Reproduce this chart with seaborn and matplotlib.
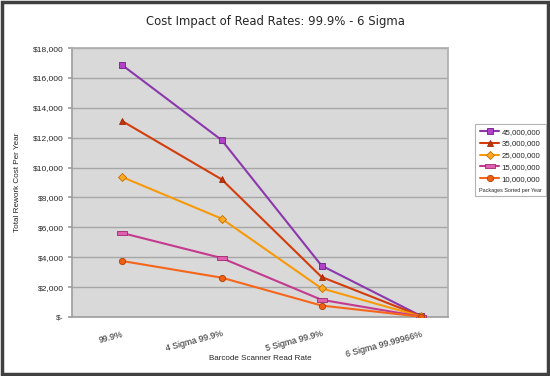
import numpy as np
import pandas as pd
import matplotlib.pyplot as plt
import matplotlib.markers as mmarkers
from matplotlib.path import Path
from matplotlib.patches import Rectangle
import seaborn as sns

# categories on the x axis
read_rates = ['99.9%', '4 Sigma 99.9%', '5 Sigma 99.9%', '6 Sigma 99.99966%']

# rework cost per year, one list per package volume
cost_45m = [16875, 11840, 3440, 57]
cost_35m = [13125, 9210, 2680, 45]
cost_25m = [9375, 6580, 1915, 32]
cost_15m = [5625, 3945, 1150, 19]
cost_10m = [3750, 2630, 765, 13]

series_names = ['45,000,000', '35,000,000', '25,000,000', '15,000,000', '10,000,000']
series_vals = [cost_45m, cost_35m, cost_25m, cost_15m, cost_10m]

rows = []
for name, vals in zip(series_names, series_vals):
    for i, v in enumerate(vals):
        rows.append({'pos': i, 'cost': v, 'volume': name})
df = pd.DataFrame(rows)

line_colors = ['#8B38AC', '#D33D0C', '#F8990A', '#C33A8E', '#F5661A']
face_colors = ['#B340C8', '#C83208', '#FFA820', '#E060B0', '#F06010']
edge_colors = ['#6A2085', '#9A2A05', '#C07000', '#A02870', '#B04000']

bar = mmarkers.MarkerStyle(Path([(-1, -0.4), (1, -0.4), (1, 0.4), (-1, 0.4), (-1, -0.4)],
                                [1, 2, 2, 2, 79]))
markers = {'45,000,000': 's', '35,000,000': '^', '25,000,000': 'D',
           '15,000,000': bar, '10,000,000': 'o'}

sns.set_theme(style='white')
plt.rcParams['font.family'] = ['DejaVu Sans']
small = ['Liberation Sans', 'DejaVu Sans']

fig = plt.figure(figsize=(5.5, 3.76), dpi=100)
ax = fig.add_axes([0.131, 0.157, 0.684, 0.715])
ax.set_facecolor('#D9D9D9')

sns.lineplot(data=df, x='pos', y='cost', hue='volume', style='volume',
             hue_order=series_names, style_order=series_names,
             palette=dict(zip(series_names, line_colors)),
             markers=markers, dashes=False, linewidth=1.5, markersize=4.5,
             ax=ax, legend=False, zorder=3)

# marker faces and edges per series
for ln, fc, ec in zip(ax.get_lines(), face_colors, edge_colors):
    ln.set_markerfacecolor(fc)
    ln.set_markeredgecolor(ec)
    ln.set_markeredgewidth(0.6)
ax.get_lines()[3].set_markersize(6.5)
ax.get_lines()[2].set_markersize(4)

ax.set_ylim(0, 18000)
ax.set_xlim(-0.5, 3.27)
ax.set_yticks(np.arange(0, 18001, 2000))
ax.set_yticklabels(['$-'] + [f'${v:,.0f}' for v in np.arange(2000, 18001, 2000)],
                   fontsize=6, family=small)
ax.yaxis.grid(True, color='#A6A6A6', linewidth=1)
ax.set_axisbelow(True)

ax.set_xticks(range(4))
ax.set_xticklabels(read_rates, fontsize=6.3, rotation=15, ha='right', va='top',
                   rotation_mode='anchor', family=small)
ax.set_xticks([-0.5, 0.5, 1.5, 2.5], minor=True)
ax.tick_params(axis='x', which='major', length=0, pad=9)
ax.tick_params(axis='x', which='minor', length=4, color='#A0A0A0', direction='out')
ax.tick_params(axis='y', length=3, color='#A0A0A0', direction='out', pad=3, left=True)

for side in ['left', 'bottom']:
    ax.spines[side].set_color('#A0A0A0')
for side in ['top', 'right']:
    ax.spines[side].set_color('#B0B0B0')

ax.set_xlabel('Barcode Scanner Read Rate', fontsize=5.8, family=small)
ax.xaxis.set_label_coords(0.5, -0.14)
ax.set_ylabel('Total Rework Cost Per Year', fontsize=5.9, family=small)
ax.yaxis.set_label_coords(-0.136, 0.5)
fig.suptitle('Cost Impact of Read Rates: 99.9% - 6 Sigma', fontsize=8.4, y=0.96)

# legend built from the drawn lines
handles = ax.get_lines()[:5]
leg = fig.legend(handles, series_names, loc='upper left', bbox_to_anchor=(0.8636, 0.670),
                 prop={'size': 5.7, 'family': small}, frameon=True, fancybox=False,
                 edgecolor='#A0A0A0', handlelength=2.4, handletextpad=0.35,
                 labelspacing=0.55, borderpad=0.5, borderaxespad=0,
                 title='Packages Sorted per Year',
                 title_fontproperties={'size': 3.9, 'family': small})
leg.get_frame().set_linewidth(0.8)
# put the title under the entries
box = leg._legend_box
box._children = box._children[::-1]

# figure border
fig.patches.append(Rectangle((0.003, 0.004), 0.994, 0.992, transform=fig.transFigure,
                             fill=False, edgecolor='#404040', linewidth=2.5))

fig.savefig('out.png', dpi=100)
